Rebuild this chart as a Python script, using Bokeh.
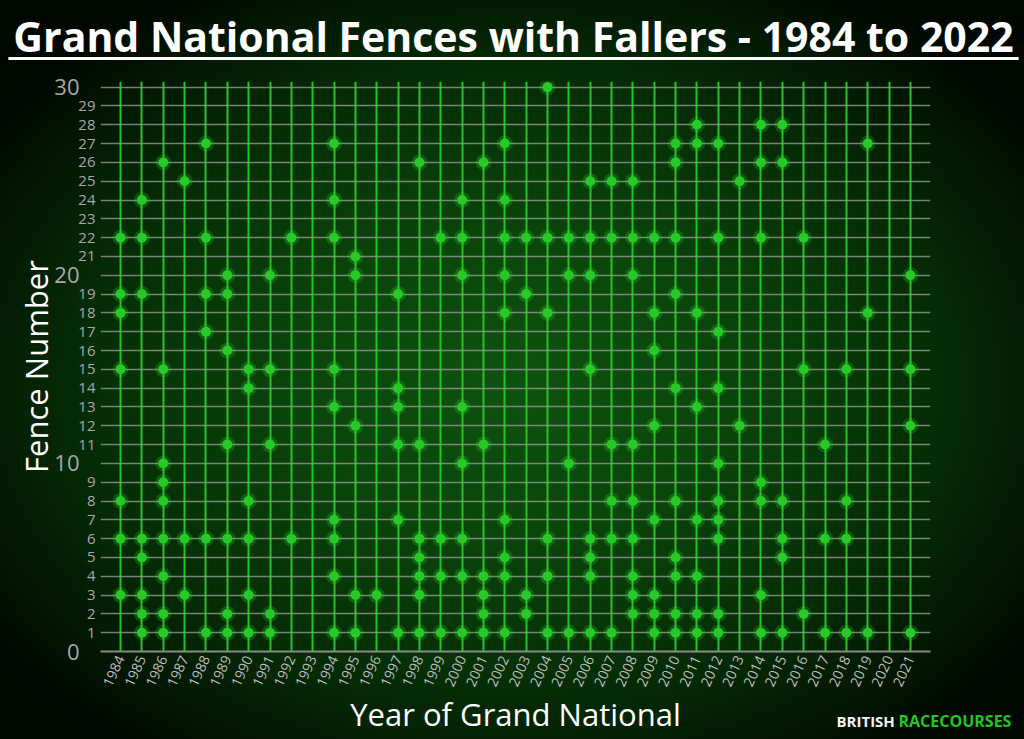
from bokeh.plotting import figure
from bokeh.models import (FixedTicker, LinearAxis, ColumnDataSource, Label, Range1d)
from bokeh.embed import file_html
from bokeh.resources import INLINE
import math

# ---------------- data ----------------
years = list(range(1984, 2022))
fences = [
    [22, 19, 18, 15, 8, 6, 3],            # 1984
    [24, 22, 19, 6, 5, 3, 2, 1],          # 1985
    [26, 15, 10, 9, 8, 6, 4, 2, 1],       # 1986
    [25, 6, 3],                           # 1987
    [27, 22, 19, 17, 6, 1],               # 1988
    [20, 19, 16, 11, 6, 2, 1],            # 1989
    [15, 14, 8, 6, 3, 1],                 # 1990
    [20, 15, 11, 2, 1],                   # 1991
    [22, 6],                              # 1992
    [],                                   # 1993
    [27, 24, 22, 15, 13, 7, 6, 4, 1],     # 1994
    [21, 20, 12, 3, 1],                   # 1995
    [3],                                  # 1996
    [19, 14, 13, 11, 7, 1],               # 1997
    [26, 11, 6, 5, 4, 3, 1],              # 1998
    [22, 6, 4, 1],                        # 1999
    [24, 22, 20, 13, 10, 6, 4, 1],        # 2000
    [26, 11, 4, 3, 2, 1],                 # 2001
    [27, 24, 22, 20, 18, 7, 5, 4, 1],     # 2002
    [22, 19, 3, 2],                       # 2003
    [30, 22, 18, 6, 4, 1],                # 2004
    [22, 20, 10, 1],                      # 2005
    [25, 22, 20, 15, 6, 5, 4, 1],         # 2006
    [25, 22, 11, 8, 6, 1],                # 2007
    [25, 22, 20, 11, 8, 6, 4, 3, 2],      # 2008
    [22, 18, 16, 12, 7, 3, 2, 1],         # 2009
    [27, 26, 22, 19, 14, 8, 5, 4, 2, 1],  # 2010
    [28, 27, 18, 13, 7, 4, 2, 1],         # 2011
    [27, 22, 17, 14, 10, 8, 7, 6, 2, 1],  # 2012
    [25, 12],                             # 2013
    [28, 26, 22, 9, 8, 3, 1],             # 2014
    [28, 26, 8, 6, 5, 1],                 # 2015
    [22, 15, 2],                          # 2016
    [11, 6, 1],                           # 2017
    [15, 8, 6, 1],                        # 2018
    [27, 18, 1],                          # 2019
    [],                                   # 2020
    [20, 15, 12, 1],                      # 2021
]
major_y = [0, 10, 20, 30]
minor_y = [v for v in range(1, 30) if v % 10 != 0]
grid_y = list(range(1, 31))

title_text = "Grand National Fences with Fallers - 1984 to 2022"
xlabel_text = "Year of Grand National"
ylabel_text = "Fence Number"

xs, ys = [], []
for yr, fl in zip(years, fences):
    for f in fl:
        xs.append(yr)
        ys.append(f)
src = ColumnDataSource(dict(year=xs, fence=ys))

FONT = "Open Sans"

p = figure(width=1024, height=739, output_backend="svg", toolbar_location=None,
           title=None,
           x_range=Range1d(1983.06, 2021.94), y_range=Range1d(0, 30.3),
           min_border_left=100, min_border_right=94, min_border_top=81,
           min_border_bottom=88)
p.background_fill_color = None
p.border_fill_color = None
p.outline_line_color = None
p.styles = {"background": "radial-gradient(ellipse 62% 62% at 50% 52%, #0f520f 0%, #0a440a 35%, #052a05 70%, #010801 100%)"}

# title (a label placed in the top panel, so that it is not clipped)
p.add_layout(Label(x=513, y=35, x_units="canvas", y_units="canvas",
                   text=title_text, text_font=FONT, text_font_size="41px",
                   text_font_style="bold", text_color="white",
                   text_align="center", text_baseline="middle"), "above")
# title underline: an empty label whose white background forms the rule
p.add_layout(Label(x=513, y=58, x_units="canvas", y_units="canvas",
                   text=" ", text_font_size="1px", text_align="center",
                   text_baseline="middle", padding=(505, 1),
                   background_fill_color="white", background_fill_alpha=1.0),
             "above")

# grids
p.xgrid.ticker = FixedTicker(ticks=years)
p.xgrid.grid_line_color = "#22c422"
p.xgrid.grid_line_width = 2
p.ygrid.ticker = FixedTicker(ticks=grid_y)
p.ygrid.grid_line_color = "#8e9e8e"
p.ygrid.grid_line_alpha = 0.8
p.ygrid.grid_line_width = 1.6

# x axis
xa = p.xaxis[0]
xa.ticker = FixedTicker(ticks=years)
xa.major_label_orientation = 65 * math.pi / 180
xa.major_label_text_font = FONT
xa.major_label_text_font_size = "14px"
xa.major_label_text_color = "#bdbdbd"
xa.major_label_standoff = 5
xa.major_tick_line_color = None
xa.minor_tick_line_color = None
xa.major_tick_out = 0
xa.major_tick_in = 0
xa.axis_line_color = "#8a8a8a"
xa.axis_line_width = 2
xa.axis_label = xlabel_text
xa.axis_label_text_font = FONT
xa.axis_label_text_font_size = "31px"
xa.axis_label_text_font_style = "normal"
xa.axis_label_text_color = "white"
xa.axis_label_standoff = 0

# inner y axis (small labels)
ya = p.yaxis[0]
ya.ticker = FixedTicker(ticks=minor_y)
ya.major_label_text_font = FONT
ya.major_label_text_font_size = "15px"
ya.major_label_text_color = "#a8a8a8"
ya.major_label_standoff = 5
ya.major_tick_line_color = None
ya.minor_tick_line_color = None
ya.major_tick_out = 0
ya.major_tick_in = 0
ya.axis_line_color = None

# outer y axis (big labels)
yb = LinearAxis(ticker=FixedTicker(ticks=major_y))
yb.major_label_text_font = FONT
yb.major_label_text_font_size = "22px"
yb.major_label_text_color = "#a8a8a8"
yb.major_label_standoff = -4
yb.major_tick_line_color = None
yb.minor_tick_line_color = None
yb.major_tick_out = 0
yb.major_tick_in = 0
yb.axis_line_color = None
yb.axis_label = ylabel_text
yb.axis_label_text_font = FONT
yb.axis_label_text_font_size = "31px"
yb.axis_label_text_font_style = "normal"
yb.axis_label_text_color = "white"
yb.axis_label_standoff = -6
p.add_layout(yb, "left")

# points with glow
p.scatter("year", "fence", source=src, size=16, fill_color="#33e633",
          fill_alpha=0.22, line_color=None)
p.scatter("year", "fence", source=src, size=10, fill_color="#27c827",
          line_color=None)

# watermark (placed in panels that have spare room)
p.add_layout(Label(x=836, y=720, x_units="canvas", y_units="canvas",
                   text="BRITISH", text_font=FONT, text_font_size="15px",
                   text_font_style="bold", text_color="#f2f2f2",
                   text_baseline="middle"), "right")
p.add_layout(Label(x=898, y=720, x_units="canvas", y_units="canvas",
                   text="RACECOURSES", text_font=FONT, text_font_size="16px",
                   text_font_style="bold", text_color="#22c422",
                   text_baseline="middle"), "above")

open("out.html", "w").write(file_html(p, INLINE))
